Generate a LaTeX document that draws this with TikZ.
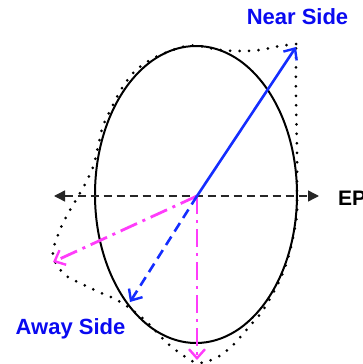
\documentclass[tikz,border=0pt]{standalone}
\usepackage{fontspec}
\setmainfont{Liberation Sans}
\usetikzlibrary{arrows.meta}
\definecolor{nearblue}{RGB}{20,45,255}
\definecolor{txtblue}{RGB}{10,10,240}
\definecolor{pink}{RGB}{255,60,250}
\tikzset{
  lbl/.style={font=\fontsize{22}{26}\selectfont\bfseries, inner sep=0pt},
  axisline/.style={black!85, line width=1.4pt, dash pattern=on 8pt off 5pt, {Triangle[length=11pt,width=11pt]}-{Triangle[length=11pt,width=11pt]}},
  vtip/.style={-{Straight Barb[length=9pt,width=16pt,line width=2.4pt]}},
  solidblue/.style={nearblue, line width=2.6pt, vtip},
  dashblue/.style={nearblue, line width=2.6pt, dash pattern=on 10pt off 6pt, vtip},
  dashdotpink/.style={pink, line width=2.8pt, dash pattern=on 18pt off 6pt on 3pt off 6pt, vtip},
  dotcurve/.style={black, line width=3pt, line cap=round, dash pattern=on 0pt off 9.5pt},
  ell/.style={black, line width=2pt}
}
\begin{document}
\begin{tikzpicture}[x=1pt,y=-1pt]
\useasboundingbox (0,0) rectangle (362,364);
\coordinate (O) at (197,196);
\coordinate (C) at (196,194.5);
\coordinate (L) at (54,196);
\coordinate (R) at (319,196);
\coordinate (NS) at (296,47);
\coordinate (AW) at (130,302);
\coordinate (PL) at (53,262);
\coordinate (PD) at (197,360);
% ellipse
\draw[ell] (C) ellipse [x radius=101, y radius=148.5];
% dotted deformed shape
\draw[dotcurve] plot[smooth, tension=0.55] coordinates {
 (296,44) (280,46) (260,50) (240,51) (220,50) (200,46) (186,46) (170,51) (152,59) (135,71)
 (122,88) (112,107) (103,126) (98,147) (93,167) (84,186) (73,205) (63,223)
 (55,243) (53,255) (58,267) (68,277) (80,283) (99,292) (117,300) (135,312)
 (150,325) (165,341) (181,354) (198,363) (218,357) (234,344) (248,328)
 (261,313) (272,295) (282,275) (289,255) (294,233) (297,213) (297,190)
 (297,150) (296,100) (296,60) (296,44)};
% axis
\draw[axisline] (L) -- (R);
% arrows
\draw[dashdotpink] (O) -- (PL);
\draw[dashdotpink] (O) -- (PD);
\draw[dashblue] (O) -- (AW);
\draw[solidblue] (O) -- (NS);
% labels
\node[lbl, text=txtblue, anchor=base] (nl) at (297.5,24) {Near Side};
\node[lbl, text=txtblue, anchor=base] (al) at (70.5,334) {Away Side};
\node[lbl, text=black, anchor=base west, font=\fontsize{21}{25}\selectfont\bfseries] (ep) at (338,205) {EP};
\end{tikzpicture}
\end{document}
